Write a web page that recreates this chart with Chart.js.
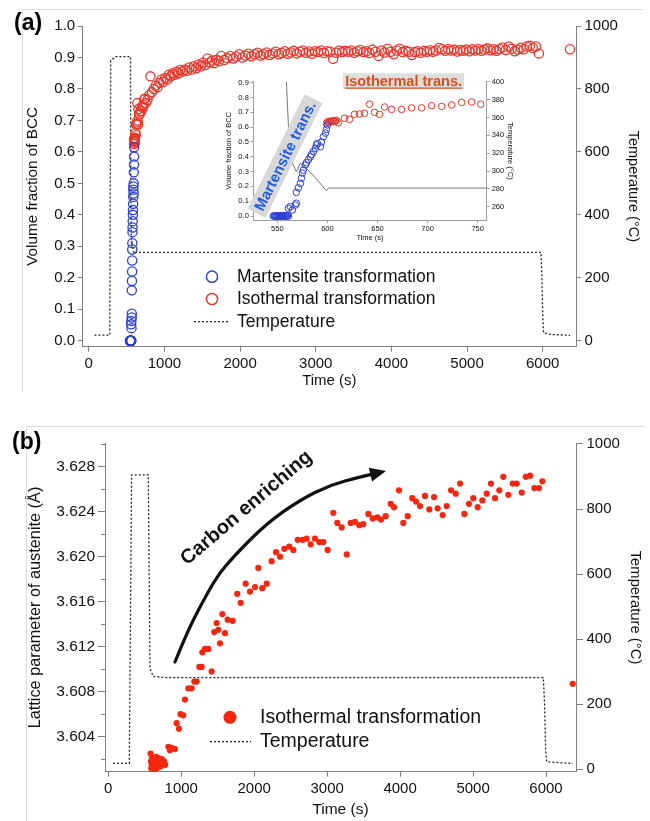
<!DOCTYPE html>
<html><head><meta charset="utf-8">
<script src="https://cdn.jsdelivr.net/npm/chart.js@4.4.1/dist/chart.umd.min.js"></script>
<style>
html,body{margin:0;padding:0;background:#fff;}
#wrap{position:relative;width:650px;height:821px;overflow:hidden;background:#fff;}
canvas{position:absolute;}
</style></head><body>
<div id="wrap">
<canvas id="ca" width="650" height="400" style="left:0;top:0;"></canvas>
<canvas id="cb" width="650" height="421" style="left:0;top:400px;"></canvas>
<canvas id="ci" width="310" height="185" style="left:218px;top:62px;"></canvas>
</div>
<script>
// ---------------- DATA ----------------
// Panel (a) ticks
const TIME_TICKS = [0,1000,2000,3000,4000,5000,6000];
const FRAC_TICKS = [0,0.1,0.2,0.3,0.4,0.5,0.6,0.7,0.8,0.9,1.0];
const TEMP_TICKS = [0,200,400,600,800,1000];
// inset ticks
const INSET_TIME_TICKS = [550,600,650,700,750];
const INSET_FRAC_TICKS = [0,0.1,0.2,0.3,0.4,0.5,0.6,0.7,0.8,0.9];
const INSET_TEMP_TICKS = [260,280,300,320,340,360,380,400];
// panel (b) ticks
const LAT_TICKS = [3.604,3.608,3.612,3.616,3.620,3.624,3.628];
const LAT_MINOR = [3.602,3.606,3.610,3.614,3.618,3.622,3.626,3.630];

// Martensite transformation (volume fraction of BCC)
const MART_TIME = [546,547,548,549,550,551,552,553,554,555,556,557,558,559,560,561,
  561,563,565,568,569,569,571,573,574,575,
  576,578,579,581,583,584,586,588,589,590,
  593,594,596,598,599,600];
const MART_FRAC = [0,0,0,0,0,0,0,0,0,0,0,0,0,0,0,0,
  0.052,0.063,0.04,0.074,0.086,0.16,0.19,0.22,0.255,0.29,
  0.31,0.345,0.36,0.38,0.40,0.415,0.435,0.457,0.48,0.49,
  0.468,0.5,0.535,0.56,0.585,0.615];

// Isothermal transformation (volume fraction of BCC)
const ISO_TIME = [599,600,601,602,603,604,605,606,607,608,
  609,611,617,622,627,632,637,642,647,652,
  657,664,674,684,694,704,714,724,734,744,
  753,
  775,800,815,835,860,885,910,935,960,985,
  1010,1035,1060,1085,1110,1135,1160,1185,1210,1240,
  1270,1300,1330,1360,1390,1420,1450,1480,1510,1540,
  1570,1600,1630,1660,1690,1720,1750,1790,1830,1870,
  1910,1950,1990,2030,2070,2110,2150,2190,2230,2270,
  2310,2350,2390,2430,2470,2510,2550,2590,2630,2670,
  2710,2750,2790,2830,2870,2910,2950,2990,3030,3070,
  3110,3150,3190,3230,3270,3310,3350,3390,3430,3470,
  3510,3550,3590,3630,3670,3710,3750,3790,3830,3870,
  3910,3950,3990,4030,4070,4110,4150,4190,4230,4270,
  4310,4350,4390,4430,4470,4510,4550,4590,4630,4670,
  4710,4750,4790,4830,4870,4910,4950,4990,5030,5070,
  5110,5150,5190,5230,5270,5310,5350,5390,5430,5470,
  5510,5550,5590,5630,5670,5710,5750,5790,5830,5870,
  5910,5950,6360];
const ISO_FRAC = [0.625,0.635,0.638,0.632,0.64,0.636,0.642,0.644,0.638,0.641,
  0.645,0.63,0.66,0.653,0.687,0.689,0.694,0.755,0.70,0.687,
  0.736,0.72,0.72,0.73,0.73,0.745,0.74,0.75,0.767,0.77,
  0.755,
  0.765,0.78,0.84,0.79,0.80,0.81,0.805,0.82,0.83,0.822,
  0.835,0.83,0.845,0.84,0.85,0.845,0.855,0.85,0.86,0.855,
  0.862,0.858,0.868,0.862,0.872,0.866,0.878,0.872,0.883,0.876,
  0.897,0.884,0.89,0.882,0.893,0.888,0.905,0.892,0.898,0.905,
  0.897,0.903,0.91,0.9,0.906,0.912,0.904,0.91,0.915,0.906,
  0.91,0.916,0.908,0.913,0.918,0.91,0.914,0.92,0.912,0.916,
  0.921,0.913,0.918,0.922,0.915,0.919,0.912,0.92,0.917,0.922,
  0.914,0.92,0.918,0.896,0.915,0.922,0.917,0.921,0.918,0.922,
  0.915,0.92,0.924,0.917,0.92,0.914,0.925,0.918,0.905,0.922,
  0.916,0.928,0.918,0.91,0.922,0.928,0.917,0.921,0.918,0.908,
  0.917,0.92,0.915,0.921,0.918,0.923,0.918,0.922,0.93,0.926,
  0.921,0.927,0.922,0.925,0.919,0.924,0.921,0.925,0.92,0.926,
  0.922,0.927,0.921,0.925,0.929,0.923,0.926,0.921,0.927,0.932,
  0.924,0.935,0.928,0.92,0.925,0.931,0.926,0.935,0.937,0.93,
  0.935,0.913,0.926];

// Temperature, panel (a)
const TEMP_A_TIME = [75,278,290,355,552,557,561,564,569,573,580,590,599,601,5977,5990,6000,6011,6100,6363];
const TEMP_A_VAL  = [18,18,890,903,903,450,352,312,299,309,302,290,278,281,281,200,80,25,20,17];

// Panel (b): lattice parameter of austenite
const LAT_TIME = [580,585,590,595,600,605,610,618,625,632,
  640,648,655,662,670,678,686,694,702,712,
  722,735,750,765,780,
  823,845,869,914,937,969,990,1028,1051,1097,
  1143,1179,1211,1248,1280,1289,1326,1371,1417,
  1453,1485,1508,1531,1563,1600,1636,1705,1768,1814,
  1883,1942,2011,2056,2111,2171,2239,2299,2354,2413,
  2481,2536,2596,2664,2719,2774,2833,2893,2948,3007,
  3084,3139,3199,3268,3323,3382,3441,3496,3564,3624,
  3688,3738,3802,3871,3916,3985,4044,4104,4167,4218,
  4273,4341,4400,4465,4514,4583,4638,4698,4762,4821,
  4880,4944,5003,5063,5127,5187,5246,5301,5360,5415,
  5483,5544,5598,5667,5722,5781,5840,5904,5949,6366];
const LAT_VAL = [3.6025,3.6018,3.6012,3.6015,3.6021,3.6010,3.6016,3.6013,3.6019,3.6011,
  3.6017,3.6014,3.6022,3.6012,3.6018,3.6015,3.6021,3.6013,3.6017,3.6019,
  3.6014,3.6020,3.6016,3.6018,3.6015,
  3.6031,3.6028,3.6030,3.6029,3.6052,3.6047,3.6060,3.6059,3.6073,3.6083,
  3.6083,3.6089,3.6089,3.6102,3.6102,3.6115,3.6118,3.6118,3.6098,
  3.6133,3.6141,3.6135,3.6123,3.6149,3.6132,3.6144,3.6143,3.6167,3.6159,
  3.6176,3.6169,3.6173,3.6190,3.6172,3.6176,3.6196,3.6204,3.6200,3.6207,
  3.6209,3.6206,3.6215,3.6215,3.6216,3.6211,3.6216,3.6213,3.6213,3.6206,
  3.6239,3.6230,3.6226,3.6202,3.6230,3.6231,3.6228,3.6229,3.6238,3.6234,
  3.6235,3.6233,3.6236,3.6247,3.6244,3.6259,3.6230,3.6236,3.6252,3.6249,
  3.6245,3.6254,3.6242,3.6253,3.6243,3.6237,3.6245,3.6259,3.6256,3.6265,
  3.6238,3.6247,3.6252,3.6244,3.6250,3.6256,3.6265,3.6252,3.6259,3.6271,
  3.6255,3.6265,3.6265,3.6257,3.6271,3.6272,3.6261,3.6261,3.6267,3.6087];

// Temperature, panel (b)
const TEMP_B_TIME = [64,288,320,548,572,617,800,5963,5980,5995,6010,6370];
const TEMP_B_VAL  = [18,18,905,905,310,285,282,282,200,60,23,18];

// "Carbon enriching" arrow path (time, lattice parameter)
const ARROW_T = [914,1075,1257,1486,1714,2171,2628,3039,3450,3807];
const ARROW_V = [3.61064,3.61319,3.61556,3.61822,3.62000,3.62297,3.62504,3.62637,3.62708,3.62762];

// ---------------- STYLE ----------------
const FONT = "'Liberation Sans', Arial, Helvetica, sans-serif";
const BLUE = '#2b3fd6';
const RED = '#e8372b';
const RED_B = '#f5260f';

function zip(a,b){ return a.map((v,i)=>({x:v,y:b[i]})); }

function lin(o){
  return {
    type:'linear', position:o.pos, min:o.min, max:o.max,
    afterBuildTicks: s => { s.ticks = o.ticks.map(v=>({value:v})); },
    afterFit: s => { if (o.w!==undefined) s.width=o.w; if (o.h!==undefined) s.height=o.h; },
    ticks:{ font:{family:FONT,size:o.fs}, color:'#111', padding:o.tpad, autoSkip:false,
            maxRotation:0, minRotation:0, callback:o.fmt },
    grid:{ drawOnChartArea:false, drawTicks:true, tickLength:o.tl, color:o.ac, lineWidth:1 },
    border:{ display:true, color:o.ac, width:1 },
    title:{ display:true, text:o.title, font:{family:FONT,size:o.tfs}, color:'#111',
            padding:{top:o.tp, bottom:o.tp} }
  };
}

const baseOpts = {
  responsive:false, animation:false, events:[],
  plugins:{ legend:{display:false}, tooltip:{enabled:false} }
};

// ---------------- PANEL (a) ----------------
const panelA = {
  id:'panelA',
  afterDraw(c){
    const ctx=c.ctx; ctx.save();
    ctx.strokeStyle='#dcdcdc'; ctx.lineWidth=1;
    ctx.beginPath(); ctx.moveTo(22.5,392); ctx.lineTo(22.5,9.5); ctx.lineTo(643,9.5); ctx.stroke();
    ctx.fillStyle='#000'; ctx.font='bold 23px '+FONT; ctx.textAlign='left'; ctx.textBaseline='alphabetic';
    ctx.fillText('(a)',14,30);
    // legend
    const ds=c.data.datasets;
    const mart=ds[2], iso=ds[1], temp=ds[0];
    ctx.font='17.5px '+FONT; ctx.textBaseline='middle'; ctx.fillStyle='#111';
    ctx.lineWidth=1.5;
    ctx.strokeStyle=BLUE; ctx.beginPath(); ctx.arc(212,276.7,5.6,0,Math.PI*2); ctx.stroke();
    ctx.fillText(mart.label,237,277);
    ctx.strokeStyle=RED; ctx.beginPath(); ctx.arc(212,299,5.6,0,Math.PI*2); ctx.stroke();
    ctx.fillText(iso.label,237,299.5);
    ctx.strokeStyle='#222'; ctx.lineWidth=1.3; ctx.setLineDash([2,2]);
    ctx.beginPath(); ctx.moveTo(194,321.7); ctx.lineTo(228,321.7); ctx.stroke(); ctx.setLineDash([]);
    ctx.fillText(temp.label,237,322);
    ctx.restore();
  }
};

new Chart(document.getElementById('ca'), {
  type:'scatter',
  data:{ datasets:[
    { label:'Temperature', data:zip(TEMP_A_TIME,TEMP_A_VAL), yAxisID:'yT', showLine:true,
      borderColor:'#222', borderWidth:1.3, borderDash:[2,2], pointRadius:0, order:3 },
    { label:'Isothermal transformation', data:zip(ISO_TIME,ISO_FRAC), yAxisID:'y',
      pointRadius:4.6, pointBorderWidth:1.3, borderColor:RED, pointBorderColor:RED,
      backgroundColor:'rgba(0,0,0,0)', pointBackgroundColor:'rgba(0,0,0,0)', order:2 },
    { label:'Martensite transformation', data:zip(MART_TIME,MART_FRAC), yAxisID:'y',
      pointRadius:4.6, pointBorderWidth:1.3, borderColor:BLUE, pointBorderColor:BLUE,
      backgroundColor:'rgba(0,0,0,0)', pointBackgroundColor:'rgba(0,0,0,0)', order:1 }
  ]},
  options: Object.assign({}, baseOpts, {
    layout:{ padding:{top:26,left:0,right:0,bottom:0} },
    scales:{
      x: lin({pos:'bottom', min:-80, max:6440, ticks:TIME_TICKS, h:53.3, fs:15, tpad:3, tl:5,
              ac:'#808080', title:'Time (s)', tfs:15, tp:10, fmt:v=>String(v)}),
      y: lin({pos:'left', min:-0.019, max:1.0, ticks:FRAC_TICKS, w:82.7, fs:15, tpad:2.5, tl:5,
              ac:'#808080', title:'Volume fraction of BCC', tfs:15.3, tp:23.8, fmt:v=>v.toFixed(1)}),
      yT: lin({pos:'right', min:-19, max:1000, ticks:TEMP_TICKS, w:74, fs:15, tpad:3.5, tl:5,
              ac:'#808080', title:'Temperature (°C)', tfs:14.5, tp:8.3, fmt:v=>String(v)})
    }
  }),
  plugins:[panelA]
});

// ---------------- INSET ----------------
const insetNotes = {
  id:'insetNotes',
  afterDatasetsDraw(c){
    const ctx=c.ctx, xs=c.scales.x, ys=c.scales.y;
    ctx.save();
    // Isothermal trans.
    ctx.font='bold 14.5px '+FONT;
    const t1='Isothermal trans.';
    const w1=ctx.measureText(t1).width;
    let cx=xs.getPixelForValue(676), cy=ys.getPixelForValue(0.91);
    ctx.fillStyle='#dedede'; ctx.fillRect(cx-w1/2-2, cy-8, w1+4, 16);
    ctx.fillStyle='#d9501f'; ctx.textAlign='center'; ctx.textBaseline='middle';
    ctx.fillText(t1,cx,cy+0.5);
    ctx.strokeStyle='#d9501f'; ctx.lineWidth=1.3;
    ctx.beginPath(); ctx.moveTo(cx-w1/2,cy+6.8); ctx.lineTo(cx+w1/2,cy+6.8); ctx.stroke();
    // Martensite trans.
    ctx.font='bold 15px '+FONT;
    const t2='Martensite trans.';
    const w2=ctx.measureText(t2).width;
    cx=xs.getPixelForValue(557.7); cy=ys.getPixelForValue(0.405);
    ctx.translate(cx,cy); ctx.rotate(-63.5*Math.PI/180);
    ctx.fillStyle='#d8d8d8'; ctx.fillRect(-w2/2-4,-10,w2+8,20);
    ctx.fillStyle='#1f5ce6'; ctx.fillText(t2,0,1);
    ctx.restore();
  }
};

new Chart(document.getElementById('ci'), {
  type:'scatter',
  data:{ datasets:[
    { label:'Temperature', data:zip(TEMP_A_TIME,TEMP_A_VAL), yAxisID:'yT', showLine:true,
      borderColor:'#666', borderWidth:0.9, pointRadius:0, order:3 },
    { label:'Isothermal transformation', data:zip(ISO_TIME,ISO_FRAC), yAxisID:'y',
      pointRadius:3.3, pointBorderWidth:1, borderColor:RED, pointBorderColor:RED,
      backgroundColor:'rgba(0,0,0,0)', pointBackgroundColor:'rgba(0,0,0,0)', order:2 },
    { label:'Martensite transformation', data:zip(MART_TIME,MART_FRAC), yAxisID:'y',
      pointRadius:3.3, pointBorderWidth:1, borderColor:BLUE, pointBorderColor:BLUE,
      backgroundColor:'rgba(0,0,0,0)', pointBackgroundColor:'rgba(0,0,0,0)', order:1 }
  ]},
  options: Object.assign({}, baseOpts, {
    layout:{ padding:{top:19.7,left:0,right:0,bottom:0} },
    scales:{
      x: lin({pos:'bottom', min:526, max:759, ticks:INSET_TIME_TICKS, h:27, fs:7.5, tpad:1.5, tl:3,
              ac:'#a0a0a0', title:'Time (s)', tfs:7.5, tp:4.5, fmt:v=>String(v)}),
      y: lin({pos:'left', min:-0.027, max:0.907, ticks:INSET_FRAC_TICKS, w:35.3, fs:7.5, tpad:1.5, tl:3,
              ac:'#a0a0a0', title:'Volume fraction of BCC', tfs:7.5, tp:6.5, fmt:v=>v.toFixed(1)}),
      yT: lin({pos:'right', min:245.3, max:400, ticks:INSET_TEMP_TICKS, w:41.3, fs:7.5, tpad:2, tl:3,
              ac:'#a0a0a0', title:'Temperature (°C)', tfs:7.5, tp:13.5, fmt:v=>String(v)})
    }
  }),
  plugins:[insetNotes]
});

// ---------------- PANEL (b) ----------------
const panelB = {
  id:'panelB',
  afterDraw(c){
    const ctx=c.ctx; ctx.save();
    ctx.strokeStyle='#dcdcdc'; ctx.lineWidth=1;
    ctx.beginPath(); ctx.moveTo(26.5,421); ctx.lineTo(26.5,26.5); ctx.lineTo(645,26.5); ctx.stroke();
    ctx.fillStyle='#000'; ctx.font='bold 23px '+FONT; ctx.textAlign='left'; ctx.textBaseline='alphabetic';
    ctx.fillText('(b)',12,49);
    // minor ticks on lattice axis
    const ys=c.scales.y, xs=c.scales.x;
    ctx.strokeStyle='#808080'; ctx.lineWidth=1;
    LAT_MINOR.forEach(v=>{
      const y=Math.round(ys.getPixelForValue(v))+0.5;
      ctx.beginPath(); ctx.moveTo(ys.right-4,y); ctx.lineTo(ys.right,y); ctx.stroke();
    });
    // arrow
    const p=ARROW_T.map((t,i)=>[xs.getPixelForValue(t), ys.getPixelForValue(ARROW_V[i])]);
    const n=p.length;
    const tip=p[n-1], prev=p[n-2];
    let dx=tip[0]-prev[0], dy=tip[1]-prev[1]; const L=Math.hypot(dx,dy); dx/=L; dy/=L;
    const hl=16, hw=7;
    const base=[tip[0]-dx*hl, tip[1]-dy*hl];
    ctx.strokeStyle='#111'; ctx.lineWidth=3.2; ctx.lineCap='round'; ctx.lineJoin='round';
    ctx.beginPath(); ctx.moveTo(p[0][0],p[0][1]);
    for(let i=1;i<n-2;i++){
      const mx=(p[i][0]+p[i+1][0])/2, my=(p[i][1]+p[i+1][1])/2;
      ctx.quadraticCurveTo(p[i][0],p[i][1],mx,my);
    }
    ctx.quadraticCurveTo(p[n-2][0],p[n-2][1],base[0],base[1]);
    ctx.stroke();
    ctx.fillStyle='#111';
    ctx.beginPath(); ctx.moveTo(tip[0],tip[1]);
    ctx.lineTo(base[0]-dy*hw, base[1]+dx*hw);
    ctx.lineTo(base[0]+dy*hw, base[1]-dx*hw);
    ctx.closePath(); ctx.fill();
    // Carbon enriching text
    ctx.save();
    ctx.translate(xs.getPixelForValue(1894), ys.getPixelForValue(3.62433));
    ctx.rotate(-40.4*Math.PI/180);
    ctx.font='bold 20px '+FONT; ctx.textAlign='center'; ctx.textBaseline='middle'; ctx.fillStyle='#111';
    ctx.fillText('Carbon enriching',0,0);
    ctx.restore();
    // legend
    const ds=c.data.datasets;
    ctx.font='19.5px '+FONT; ctx.textAlign='left'; ctx.textBaseline='middle'; ctx.fillStyle='#111';
    ctx.fillStyle=RED_B; ctx.beginPath(); ctx.arc(230,317.3,6.5,0,Math.PI*2); ctx.fill();
    ctx.fillStyle='#111'; ctx.fillText(ds[1].label,260,317.8);
    ctx.strokeStyle='#222'; ctx.lineWidth=1.3; ctx.setLineDash([2,2]); ctx.lineCap='butt';
    ctx.beginPath(); ctx.moveTo(210,341.7); ctx.lineTo(251,341.7); ctx.stroke(); ctx.setLineDash([]);
    ctx.fillText(ds[0].label,260,342);
    ctx.restore();
  }
};

new Chart(document.getElementById('cb'), {
  type:'scatter',
  data:{ datasets:[
    { label:'Temperature', data:zip(TEMP_B_TIME,TEMP_B_VAL), yAxisID:'yT', showLine:true,
      borderColor:'#222', borderWidth:1.3, borderDash:[2,2], pointRadius:0, order:2 },
    { label:'Isothermal transformation', data:zip(LAT_TIME,LAT_VAL), yAxisID:'y',
      pointRadius:3.1, pointBorderWidth:0, borderColor:RED_B, pointBorderColor:RED_B,
      backgroundColor:RED_B, pointBackgroundColor:RED_B, order:1 }
  ]},
  options: Object.assign({}, baseOpts, {
    layout:{ padding:{top:43.3,left:0,right:0,bottom:0} },
    scales:{
      x: lin({pos:'bottom', min:-45, max:6411, ticks:TIME_TICKS, h:49.3, fs:15, tpad:3, tl:5,
              ac:'#808080', title:'Time (s)', tfs:15.5, tp:1.7, fmt:v=>String(v)}),
      y: lin({pos:'left', min:3.60089, max:3.63008, ticks:LAT_TICKS, w:105, fs:15.5, tpad:3, tl:7,
              ac:'#808080', title:'Lattice parameter of austenite (Å)', tfs:16.3, tp:26, fmt:v=>v.toFixed(3)}),
      yT: lin({pos:'right', min:-7.4, max:1002, ticks:TEMP_TICKS, w:74, fs:15, tpad:3.5, tl:7,
              ac:'#808080', title:'Temperature (°C)', tfs:14.8, tp:6.1, fmt:v=>String(v)})
    }
  }),
  plugins:[panelB]
});
</script>
</body></html>
